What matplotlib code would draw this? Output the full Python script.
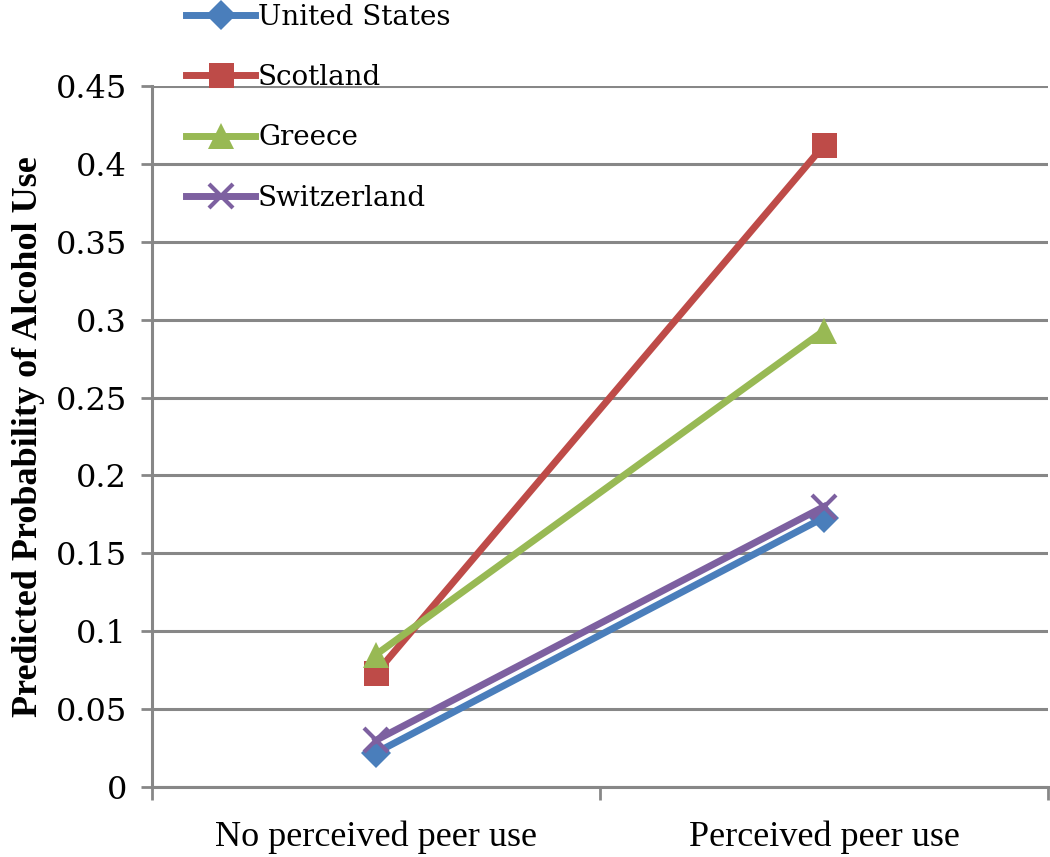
import matplotlib.pyplot as plt

# data
categories = ["No perceived peer use", "Perceived peer use"]
countries = ["United States", "Scotland", "Greece", "Switzerland"]
us = [0.022, 0.173]
scotland = [0.073, 0.412]
greece = [0.085, 0.293]
switzerland = [0.030, 0.180]

colors = ["#4A7EBB", "#BE4B48", "#98B954", "#7D60A0"]
markers = ["D", "s", "^", "x"]
sizes = [15, 18, 19, 17]

fig = plt.figure(figsize=(10.5, 8.57), dpi=100)
ax = fig.add_axes([152 / 1050, 70 / 857, 896 / 1050, 701 / 857])

x = list(range(len(categories)))
series = [us, scotland, greece, switzerland]
lines = []
for vals, name, c, m, s in zip(series, countries, colors, markers, sizes):
    ln, = ax.plot(x, vals, color=c, lw=5, marker=m, markersize=s,
                  markeredgewidth=3 if m == "x" else 0, markeredgecolor=c,
                  label=name, zorder=3)
    lines.append(ln)

ax.set_xlim(-0.5, 1.5)
ax.set_ylim(0, 0.45)
yt = [i * 0.05 for i in range(10)]
ax.set_yticks(yt)
ax.set_yticklabels(["0", "0.05", "0.1", "0.15", "0.2", "0.25", "0.3", "0.35", "0.4", "0.45"],
                   family="DejaVu Serif", fontsize=23)
ax.yaxis.grid(True, color="#878787", lw=2.2, zorder=0)

ax.set_xticks([-0.5, 0.5, 1.5])
ax.set_xticklabels([])
ax.set_xticks(x, minor=True)
ax.set_xticklabels(categories, minor=True, family="Liberation Serif", fontsize=26)
ax.tick_params(axis="x", which="minor", length=0, pad=24)
ax.tick_params(axis="x", which="major", length=9, width=2, color="#878787")
ax.tick_params(axis="y", length=8, width=2, color="#878787", pad=10)

for side in ["top", "right"]:
    ax.spines[side].set_visible(False)
for side in ["left", "bottom"]:
    ax.spines[side].set_color("#878787")
    ax.spines[side].set_linewidth(2.2)

ax.set_ylabel("Predicted Probability of Alcohol Use", family="Liberation Serif",
              fontweight="bold", fontsize=26, labelpad=8)

fig.legend(handles=lines, loc="upper left", bbox_to_anchor=(172 / 1050, 1.012),
           frameon=False, prop={"family": "DejaVu Serif", "size": 20},
           handlelength=2.5, handletextpad=0.1, labelspacing=1.2, borderpad=0)

plt.savefig("out.png", dpi=100)
